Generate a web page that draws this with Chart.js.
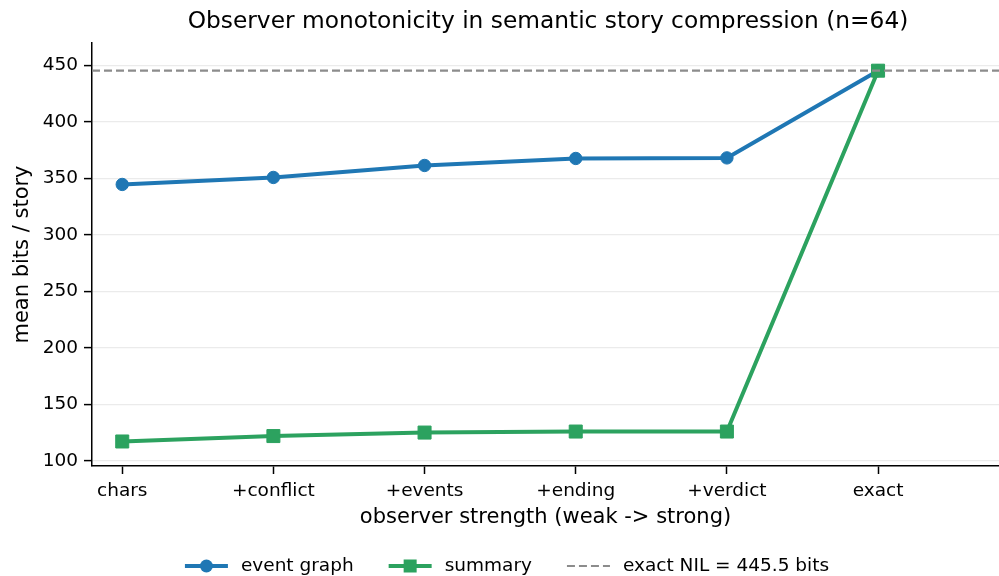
<!DOCTYPE html>
<html>
<head>
<meta charset="utf-8">
<script src="https://cdn.jsdelivr.net/npm/chart.js@4.4.1/dist/chart.umd.min.js"></script>
<style>
  html, body { margin: 0; padding: 0; background: #fff; }
  #wrap { width: 999px; height: 576px; }
</style>
</head>
<body>
<div id="wrap"><canvas id="chart" width="999" height="576"></canvas></div>
<script>
// Data
const categories = ['chars', '+conflict', '+events', '+ending', '+verdict', 'exact'];
const eventGraph = [344.8, 351.0, 361.6, 367.8, 368.3, 445.5];
const summary = [117.3, 122.1, 125.2, 126.1, 126.1, 445.5];
const exactNil = 445.5;
const yTicks = [100, 150, 200, 250, 300, 350, 400, 450];

const FONT = "'DejaVu Sans', sans-serif";
const X_MIN = -0.2, X_MAX = 5.8;

const toPoints = arr => arr.map((v, i) => ({ x: i, y: v }));

// Title + legend drawn by hand so they sit where matplotlib put them
const decor = {
    id: 'decor',
    afterDraw(chart) {
        const ctx = chart.ctx;
        ctx.save();
        ctx.fillStyle = '#000';
        ctx.font = '23.3px ' + FONT;
        ctx.textAlign = 'center';
        ctx.textBaseline = 'middle';
        ctx.fillText('Observer monotonicity in semantic story compression (n=64)', 548, 22);

        // legend
        ctx.font = '18.5px ' + FONT;
        ctx.textAlign = 'left';
        const y = 566, handle = 43, pad = 13, gap = 35;
        const items = chart.data.datasets.slice().sort((a, b) => a.legendIndex - b.legendIndex);
        let total = 0;
        items.forEach((d, i) => {
            total += handle + pad + ctx.measureText(d.label).width + (i ? gap : 0);
        });
        let x = 507 - total / 2;
        items.forEach(d => {
            ctx.strokeStyle = d.borderColor;
            ctx.lineWidth = d.borderWidth;
            ctx.setLineDash(d.borderDash || []);
            ctx.beginPath();
            ctx.moveTo(x, y);
            ctx.lineTo(x + handle, y);
            ctx.stroke();
            ctx.setLineDash([]);
            ctx.fillStyle = d.borderColor;
            const cx = x + handle / 2;
            if (d.pointStyle === 'circle') {
                ctx.beginPath();
                ctx.arc(cx, y, 6.5, 0, Math.PI * 2);
                ctx.fill();
            } else if (d.pointStyle === 'rect') {
                ctx.fillRect(cx - 6.5, y - 6.5, 13, 13);
            }
            ctx.fillStyle = '#000';
            ctx.fillText(d.label, x + handle + pad, y);
            x += handle + pad + ctx.measureText(d.label).width + gap;
        });
        ctx.restore();
    }
};

new Chart(document.getElementById('chart'), {
    type: 'line',
    data: {
        datasets: [
            {
                label: 'exact NIL = 445.5 bits',
                legendIndex: 2,
                order: 0,
                data: [{ x: X_MIN, y: exactNil }, { x: X_MAX, y: exactNil }],
                borderColor: '#8c8c8c',
                borderWidth: 2.2,
                borderDash: [8, 4],
                pointRadius: 0,
                pointStyle: false
            },
            {
                label: 'summary',
                legendIndex: 1,
                order: 1,
                data: toPoints(summary),
                borderColor: '#2ca25f',
                backgroundColor: '#2ca25f',
                borderWidth: 4,
                pointStyle: 'rect',
                pointRadius: 9.2,
                pointBorderWidth: 1,
                tension: 0
            },
            {
                label: 'event graph',
                legendIndex: 0,
                order: 2,
                data: toPoints(eventGraph),
                borderColor: '#1f77b4',
                backgroundColor: '#1f77b4',
                borderWidth: 4,
                pointStyle: 'circle',
                pointRadius: 6.2,
                pointBorderWidth: 1,
                tension: 0
            }
        ]
    },
    options: {
        responsive: false,
        devicePixelRatio: 1,
        animation: false,
        layout: { autoPadding: false, padding: { top: 43, left: 10, right: 0, bottom: 44 } },
        plugins: {
            legend: { display: false },
            title: { display: false },
            tooltip: { enabled: false }
        },
        scales: {
            x: {
                type: 'linear',
                min: X_MIN,
                max: X_MAX,
                afterBuildTicks: s => { s.ticks = categories.map((_, i) => ({ value: i })); },
                afterFit: s => { s.height = 66; s.paddingLeft = 0; s.paddingRight = 0; },
                ticks: {
                    autoSkip: false,
                    maxRotation: 0,
                    padding: 6,
                    color: '#000',
                    font: { family: FONT, size: 18.5 },
                    callback: v => categories[v]
                },
                grid: { drawOnChartArea: false, tickLength: 8, tickColor: '#000', tickWidth: 1.5 },
                border: { color: '#000', width: 1.5 },
                title: {
                    display: true,
                    text: 'observer strength (weak -> strong)',
                    color: '#000',
                    font: { family: FONT, size: 21 },
                    padding: { top: 0, bottom: 2 }
                }
            },
            y: {
                min: 95.6,
                max: 470,
                afterBuildTicks: s => { s.ticks = yTicks.map(v => ({ value: v })); },
                afterFit: s => { s.width = 82; },
                ticks: {
                    padding: 6,
                    color: '#000',
                    font: { family: FONT, size: 18.5 }
                },
                grid: { color: '#ebebeb', lineWidth: 1.2, tickLength: 8, tickColor: '#000', tickWidth: 1.5 },
                border: { color: '#000', width: 1.5 },
                title: {
                    display: true,
                    text: 'mean bits / story',
                    color: '#000',
                    font: { family: FONT, size: 21 },
                    padding: { top: 0, bottom: 0 }
                }
            }
        }
    },
    plugins: [decor]
});
</script>
</body>
</html>
